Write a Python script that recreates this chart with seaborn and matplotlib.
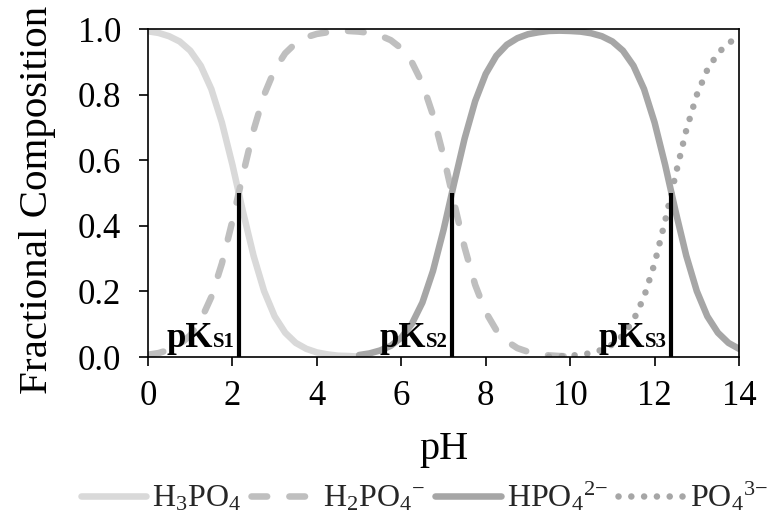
import numpy as np
import pandas as pd
import matplotlib
matplotlib.use("Agg")
import matplotlib.pyplot as plt
import seaborn as sns

# ---------------- data ----------------
ph_h3po4 = [0.0, 0.25, 0.5, 0.75, 1.0, 1.25, 1.5, 1.75, 2.0, 2.25, 2.5, 2.75, 3.0,
            3.25, 3.5, 3.75, 4.0, 4.25, 4.5, 4.75, 5.0]
frac_h3po4 = [0.993, 0.988, 0.978, 0.962, 0.934, 0.888, 0.817, 0.715, 0.586, 0.443,
              0.309, 0.201, 0.124, 0.074, 0.043, 0.025, 0.014, 0.008, 0.004, 0.003, 0.001]

ph_h2po4 = [0.0, 0.25, 0.5, 0.75, 1.0, 1.25, 1.5, 1.75, 2.0, 2.25, 2.5, 2.75, 3.0,
            3.25, 3.5, 3.75, 4.0, 4.25, 4.5, 4.75, 5.0, 5.25, 5.5, 5.75, 6.0, 6.25,
            6.5, 6.75, 7.0, 7.25, 7.5, 7.75, 8.0, 8.25, 8.5, 8.75, 9.0, 9.25, 9.5,
            9.75, 10.0]
frac_h2po4 = [0.007, 0.012, 0.022, 0.038, 0.066, 0.112, 0.183, 0.285, 0.415, 0.557,
              0.691, 0.799, 0.876, 0.926, 0.957, 0.975, 0.985, 0.990, 0.994, 0.994,
              0.992, 0.988, 0.980, 0.966, 0.941, 0.899, 0.834, 0.738, 0.613, 0.471,
              0.334, 0.220, 0.137, 0.082, 0.048, 0.027, 0.016, 0.009, 0.005, 0.003,
              0.002]

ph_hpo4 = [5.0, 5.25, 5.5, 5.75, 6.0, 6.25, 6.5, 6.75, 7.0, 7.25, 7.5, 7.75, 8.0,
           8.25, 8.5, 8.75, 9.0, 9.25, 9.5, 9.75, 10.0, 10.25, 10.5, 10.75, 11.0,
           11.25, 11.5, 11.75, 12.0, 12.25, 12.5, 12.75, 13.0, 13.25, 13.5, 13.75, 14.0]
frac_hpo4 = [0.006, 0.011, 0.020, 0.034, 0.059, 0.101, 0.166, 0.262, 0.387, 0.529,
             0.666, 0.780, 0.863, 0.918, 0.952, 0.972, 0.984, 0.990, 0.994, 0.995,
             0.994, 0.992, 0.987, 0.978, 0.962, 0.934, 0.888, 0.817, 0.715, 0.586,
             0.443, 0.309, 0.201, 0.124, 0.074, 0.043, 0.025]

ph_po4 = [9.5, 9.75, 10.0, 10.25, 10.5, 10.75, 11.0, 11.25, 11.5, 11.75, 12.0, 12.25,
          12.5, 12.75, 13.0, 13.25, 13.5, 13.75, 14.0]
frac_po4 = [0.001, 0.002, 0.004, 0.007, 0.012, 0.022, 0.038, 0.066, 0.112, 0.183,
            0.285, 0.415, 0.557, 0.691, 0.799, 0.876, 0.926, 0.957, 0.976]

pk_values = [2.15, 7.2, 12.4]
pk_subs = ["S1", "S2", "S3"]
species_labels = [r"H$_3$PO$_4$",
                  "H$_2$PO$_4{}^{\\text{\u2212}}$",
                  "HPO$_4{}^{\\text{2\u2212}}$",
                  "PO$_4{}^{\\text{3\u2212}}$"]

x_ticks = [0, 2, 4, 6, 8, 10, 12, 14]
y_ticks = [0.0, 0.2, 0.4, 0.6, 0.8, 1.0]

# ---------------- style ----------------
sns.set_theme(style="white")
plt.rcParams["font.family"] = ["Liberation Serif", "DejaVu Serif"]
plt.rcParams["mathtext.fontset"] = "custom"
plt.rcParams["mathtext.rm"] = "Liberation Serif"
plt.rcParams["mathtext.it"] = "Liberation Serif:italic"
plt.rcParams["mathtext.bf"] = "Liberation Serif:bold"
plt.rcParams["mathtext.default"] = "rm"

fig = plt.figure(figsize=(7.74, 5.23), dpi=100)
ax = fig.add_axes([148 / 774, 1 - 357 / 523, (739 - 148) / 774, (357 - 29) / 523])

lw = 4.7
series = [
    (ph_h3po4, frac_h3po4, species_labels[0], "#d9d9d9", None),
    (ph_h2po4, frac_h2po4, species_labels[1], "#bfbfbf", (2.4, 3.4)),
    (ph_hpo4, frac_hpo4, species_labels[2], "#a6a6a6", None),
    (ph_po4, frac_po4, species_labels[3], "#a6a6a6", (0.01, 1.95)),
]
for xs, ys, lab, col, dash in series:
    df = pd.DataFrame({"pH": xs, "frac": ys})
    sns.lineplot(data=df, x="pH", y="frac", color=col, lw=lw, label=lab, ax=ax,
                 legend=False)
    line = ax.lines[-1]
    line.set_solid_capstyle("round")
    line.set_solid_joinstyle("round")
    if dash is not None:
        line.set_dashes(dash)
        line.set_dash_capstyle("round")

ax.vlines(pk_values, 0, 0.5, color="black", lw=3.0, zorder=5)
for pk, sub in zip(pk_values, pk_subs):
    t_sub = ax.text(pk - 0.1, 0.03, sub, ha="right", va="baseline", fontsize=15,
                    fontweight="bold", color="black", zorder=6)
    ax.annotate("pK", xy=(0, 0.03), xycoords=(t_sub, "data"), ha="right",
                va="baseline", fontsize=25, fontweight="bold", color="black",
                zorder=6)

ax.set_xlim(0, 14)
ax.set_ylim(0, 1)
ax.set_xticks(x_ticks)
ax.set_xticklabels([str(t) for t in x_ticks])
ax.set_yticks(y_ticks)
ax.set_yticklabels([f"{t:.1f}" for t in y_ticks])
ax.tick_params(axis="both", direction="out", length=6.5, width=1.2, labelsize=25,
               colors="black", bottom=True, left=True)
ax.tick_params(axis="x", pad=10)
ax.tick_params(axis="y", pad=13)
for sp in ax.spines.values():
    sp.set_visible(True)
    sp.set_color("black")
    sp.set_linewidth(1.2)

ax.set_xlabel("pH", fontsize=29, color="black")
ax.set_ylabel("Fractional Composition", fontsize=29.5, color="black")
ax.xaxis.set_label_coords(0.5, -0.225)
ax.yaxis.set_label_coords(-0.155, 0.48)

handles = ax.lines[:4]
fig.legend(handles, species_labels, loc="center", bbox_to_anchor=(0.548, 0.05),
           ncol=4, frameon=False, fontsize=23, handlelength=2.05,
           handletextpad=0.2, columnspacing=0.3, borderaxespad=0)

fig.savefig("out.png", dpi=100)
